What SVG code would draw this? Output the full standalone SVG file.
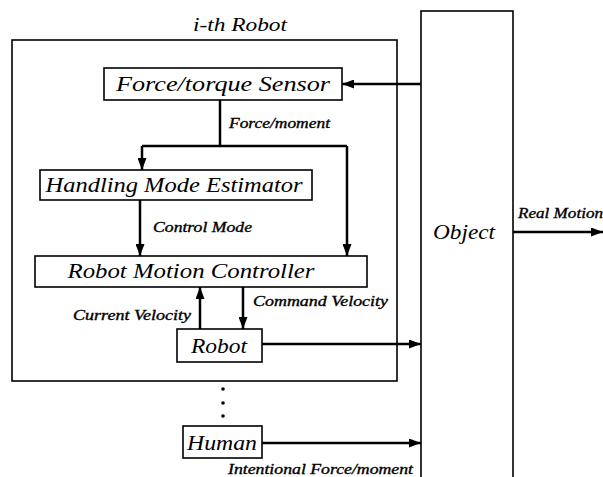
<svg xmlns="http://www.w3.org/2000/svg" width="603" height="477" viewBox="0 0 603 477">
<defs>
<marker id="ah" viewBox="0 0 12 9" refX="12" refY="4.5" markerWidth="12" markerHeight="9" markerUnits="userSpaceOnUse" orient="auto">
<path d="M0,0 L12,4.5 L0,9 Z" fill="#000"/>
</marker>
<style>
.box{fill:#fff;stroke:#000;stroke-width:1.6}
.frame{fill:none;stroke:#000;stroke-width:1.6}
.t{font-family:"Liberation Serif","Times New Roman",serif;font-style:italic;font-size:20px;fill:#000}
.l{font-family:"Liberation Serif","Times New Roman",serif;font-style:italic;font-size:14px;fill:#000;stroke:#000;stroke-width:0.35}
.c{fill:none;stroke:#000;stroke-width:2.5}
</style>
</defs>
<rect width="603" height="477" fill="#fff"/>
<g id="robot-frame">
<rect class="frame" x="12" y="40" width="385" height="341"/>
<text class="t" x="240" y="31" text-anchor="middle" textLength="94" lengthAdjust="spacingAndGlyphs" style="font-size:18px">i-th Robot</text>
</g>
<g id="object">
<rect class="box" x="421" y="11" width="92" height="480"/>
<text class="t" x="464" y="239" text-anchor="middle" textLength="62" lengthAdjust="spacingAndGlyphs" style="font-size:21px">Object</text>
</g>
<g id="sensor">
<rect class="box" x="104" y="68" width="238" height="32"/>
<text class="t" x="223" y="91" text-anchor="middle" textLength="214" lengthAdjust="spacingAndGlyphs">Force/torque Sensor</text>
</g>
<g id="estimator">
<rect class="box" x="40" y="170" width="272" height="30"/>
<text class="t" x="174" y="192" text-anchor="middle" textLength="257" lengthAdjust="spacingAndGlyphs">Handling Mode Estimator</text>
</g>
<g id="controller">
<rect class="box" x="35" y="256" width="332" height="31"/>
<text class="t" x="191" y="278" text-anchor="middle" textLength="247" lengthAdjust="spacingAndGlyphs">Robot Motion Controller</text>
</g>
<g id="robot">
<rect class="box" x="177" y="329" width="85" height="33"/>
<text class="t" x="219" y="353" text-anchor="middle" textLength="56" lengthAdjust="spacingAndGlyphs" style="font-size:21px">Robot</text>
</g>
<g id="human">
<rect class="box" x="183" y="426" width="79" height="32"/>
<text class="t" x="222" y="450" text-anchor="middle" textLength="70" lengthAdjust="spacingAndGlyphs" style="font-size:21px">Human</text>
</g>
<g id="dots" fill="#000">
<circle cx="223" cy="389" r="1.8"/>
<circle cx="223" cy="403" r="1.8"/>
<circle cx="223" cy="416" r="1.8"/>
</g>
<g id="connectors">
<line class="c" x1="421" y1="84" x2="342" y2="84" marker-end="url(#ah)"/>
<polyline class="c" points="220,100 220,146"/>
<polyline class="c" points="142,146 347,146"/>
<line class="c" x1="142" y1="146" x2="142" y2="170" marker-end="url(#ah)"/>
<line class="c" x1="347" y1="146" x2="347" y2="256" marker-end="url(#ah)"/>
<line class="c" x1="140" y1="200" x2="140" y2="256" marker-end="url(#ah)"/>
<line class="c" x1="200" y1="329" x2="200" y2="287" marker-end="url(#ah)"/>
<line class="c" x1="243" y1="287" x2="243" y2="329" marker-end="url(#ah)"/>
<line class="c" x1="262" y1="344" x2="421" y2="344" marker-end="url(#ah)"/>
<line class="c" x1="262" y1="443" x2="421" y2="443" marker-end="url(#ah)"/>
<line class="c" x1="513" y1="232" x2="603" y2="232" marker-end="url(#ah)"/>
<text class="l" x="229" y="128" textLength="101" lengthAdjust="spacingAndGlyphs">Force/moment</text>
<text class="l" x="153" y="232" textLength="99" lengthAdjust="spacingAndGlyphs">Control Mode</text>
<text class="l" x="73" y="320" textLength="118" lengthAdjust="spacingAndGlyphs">Current Velocity</text>
<text class="l" x="253" y="306" textLength="135" lengthAdjust="spacingAndGlyphs">Command Velocity</text>
<text class="l" x="518" y="218" textLength="85" lengthAdjust="spacingAndGlyphs">Real Motion</text>
<text class="l" x="228" y="474" textLength="185" lengthAdjust="spacingAndGlyphs">Intentional Force/moment</text>
</g>
</svg>
